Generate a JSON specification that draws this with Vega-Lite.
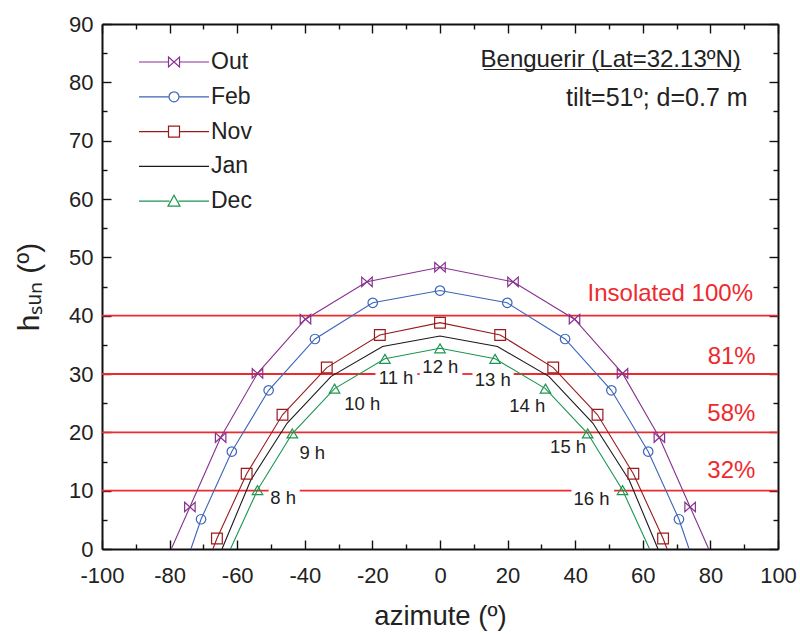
{
  "$schema": "https://vega.github.io/schema/vega-lite/v6.json",
  "width": 676,
  "height": 525,
  "autosize": "none",
  "padding": {"left": 102, "top": 24, "right": 22, "bottom": 86},
  "background": "white",
  "config": {
    "view": {"stroke": null},
    "axis": {
      "grid": false,
      "domainColor": "#111",
      "domainWidth": 2,
      "tickColor": "#111",
      "tickWidth": 1.4,
      "labelFont": "Liberation Sans",
      "labelFontSize": 22,
      "labelColor": "#222",
      "labelOverlap": false,
      "labelFlush": false,
      "titleFont": "Liberation Sans",
      "titleFontSize": 27.5,
      "titleFontWeight": "normal",
      "titleColor": "#222"
    },
    "text": {"font": "Liberation Sans"}
  },
  "datasets": {
    "curves": [
      {"month": "Out", "az": -79.5, "h": 0, "hour": null},
      {"month": "Out", "az": -74, "h": 7.2, "hour": 7},
      {"month": "Out", "az": -64.9, "h": 19.1, "hour": 8},
      {"month": "Out", "az": -54, "h": 30.1, "hour": 9},
      {"month": "Out", "az": -39.8, "h": 39.4, "hour": 10},
      {"month": "Out", "az": -21.6, "h": 45.8, "hour": 11},
      {"month": "Out", "az": 0, "h": 48.3, "hour": 12},
      {"month": "Out", "az": 21.6, "h": 45.8, "hour": 13},
      {"month": "Out", "az": 39.8, "h": 39.4, "hour": 14},
      {"month": "Out", "az": 54, "h": 30.1, "hour": 15},
      {"month": "Out", "az": 64.9, "h": 19.1, "hour": 16},
      {"month": "Out", "az": 74, "h": 7.2, "hour": 17},
      {"month": "Out", "az": 79.5, "h": 0, "hour": null},
      {"month": "Feb", "az": -73.7, "h": 0, "hour": null},
      {"month": "Feb", "az": -70.7, "h": 5.1, "hour": 7},
      {"month": "Feb", "az": -61.6, "h": 16.7, "hour": 8},
      {"month": "Feb", "az": -50.7, "h": 27.2, "hour": 9},
      {"month": "Feb", "az": -37, "h": 36, "hour": 10},
      {"month": "Feb", "az": -19.9, "h": 42.2, "hour": 11},
      {"month": "Feb", "az": 0, "h": 44.3, "hour": 12},
      {"month": "Feb", "az": 19.9, "h": 42.2, "hour": 13},
      {"month": "Feb", "az": 37, "h": 36, "hour": 14},
      {"month": "Feb", "az": 50.7, "h": 27.2, "hour": 15},
      {"month": "Feb", "az": 61.6, "h": 16.7, "hour": 16},
      {"month": "Feb", "az": 70.7, "h": 5.1, "hour": 17},
      {"month": "Feb", "az": 73.7, "h": 0, "hour": null},
      {"month": "Nov", "az": -67.2, "h": 0, "hour": null},
      {"month": "Nov", "az": -66, "h": 1.8, "hour": 7},
      {"month": "Nov", "az": -57.2, "h": 12.9, "hour": 8},
      {"month": "Nov", "az": -46.6, "h": 23, "hour": 9},
      {"month": "Nov", "az": -33.5, "h": 31.1, "hour": 10},
      {"month": "Nov", "az": -17.8, "h": 36.7, "hour": 11},
      {"month": "Nov", "az": 0, "h": 38.8, "hour": 12},
      {"month": "Nov", "az": 17.8, "h": 36.7, "hour": 13},
      {"month": "Nov", "az": 33.5, "h": 31.1, "hour": 14},
      {"month": "Nov", "az": 46.6, "h": 23, "hour": 15},
      {"month": "Nov", "az": 57.2, "h": 12.9, "hour": 16},
      {"month": "Nov", "az": 66, "h": 1.8, "hour": 17},
      {"month": "Nov", "az": 67.2, "h": 0, "hour": null},
      {"month": "Jan", "az": -64.5, "h": 0, "hour": null},
      {"month": "Jan", "az": -56, "h": 11.8, "hour": 8},
      {"month": "Jan", "az": -45.2, "h": 21.6, "hour": 9},
      {"month": "Jan", "az": -32.2, "h": 29.6, "hour": 10},
      {"month": "Jan", "az": -17, "h": 34.7, "hour": 11},
      {"month": "Jan", "az": 0, "h": 36.5, "hour": 12},
      {"month": "Jan", "az": 17, "h": 34.7, "hour": 13},
      {"month": "Jan", "az": 32.2, "h": 29.6, "hour": 14},
      {"month": "Jan", "az": 45.2, "h": 21.6, "hour": 15},
      {"month": "Jan", "az": 56, "h": 11.8, "hour": 16},
      {"month": "Jan", "az": 64.5, "h": 0, "hour": null},
      {"month": "Dec", "az": -62, "h": 0, "hour": null},
      {"month": "Dec", "az": -54, "h": 10.1, "hour": 8},
      {"month": "Dec", "az": -43.7, "h": 19.8, "hour": 9},
      {"month": "Dec", "az": -31.2, "h": 27.5, "hour": 10},
      {"month": "Dec", "az": -16.3, "h": 32.6, "hour": 11},
      {"month": "Dec", "az": 0, "h": 34.4, "hour": 12},
      {"month": "Dec", "az": 16.3, "h": 32.6, "hour": 13},
      {"month": "Dec", "az": 31.2, "h": 27.5, "hour": 14},
      {"month": "Dec", "az": 43.7, "h": 19.8, "hour": 15},
      {"month": "Dec", "az": 54, "h": 10.1, "hour": 16},
      {"month": "Dec", "az": 62, "h": 0, "hour": null}
    ],
    "levels": [
      {"h": 40, "a": -100, "b": 100},
      {"h": 20, "a": -100, "b": 100},
      {"h": 30, "a": -100, "b": -19.1},
      {"h": 30, "a": -6.7, "b": -6.0},
      {"h": 30, "a": 6.6, "b": 9.6},
      {"h": 30, "a": 21.8, "b": 100},
      {"h": 10, "a": -100, "b": -50.7},
      {"h": 10, "a": -41.5, "b": 38.9},
      {"h": 10, "a": 51.5, "b": 100}
    ],
    "hours": [
      {"label": "8 h", "az": -46.4, "h": 8.7},
      {"label": "9 h", "az": -37.8, "h": 16.4},
      {"label": "10 h", "az": -23.0, "h": 24.9},
      {"label": "11 h", "az": -13.0, "h": 29.3},
      {"label": "12 h", "az": 0.1, "h": 31.2},
      {"label": "13 h", "az": 15.6, "h": 28.9},
      {"label": "14 h", "az": 25.8, "h": 24.6},
      {"label": "15 h", "az": 37.9, "h": 17.5},
      {"label": "16 h", "az": 44.8, "h": 8.5}
    ],
    "pct": [
      {"label": "Insolated 100%", "az": 92.6, "h": 43.8},
      {"label": "81%", "az": 93.4, "h": 33.0},
      {"label": "58%", "az": 93.3, "h": 23.1},
      {"label": "32%", "az": 93.3, "h": 13.4}
    ],
    "site": [
      {"label": "Benguerir (Lat=32.13ºN)", "az": 89.0, "h": 83.9}
    ],
    "setup": [
      {"label": "tilt=51º; d=0.7 m", "az": 91.0, "h": 77.3}
    ],
    "underline": [
      {"a": 12.9, "b": 89.1, "h": 82.2}
    ]
  },
  "layer": [
    {
      "data": {"name": "levels"},
      "mark": {"type": "rule", "color": "#EE2A2E", "strokeWidth": 1.8},
      "encoding": {
        "x": {"field": "a", "type": "quantitative", "scale": {"domain": [-100, 100], "nice": false, "zero": false},
          "axis": {"orient": "top", "labels": false, "title": null, "values": [-100,-90,-80,-70,-60,-50,-40,-30,-20,-10,0,10,20,30,40,50,60,70,80,90,100],
            "tickSize": {"condition": {"test": "datum.value % 20 === 0", "value": -9}, "value": -5}}},
        "x2": {"field": "b"},
        "y": {"field": "h", "type": "quantitative", "scale": {"domain": [0, 90], "nice": false, "zero": false},
          "axis": {"orient": "right", "labels": false, "title": null, "values": [0,5,10,15,20,25,30,35,40,45,50,55,60,65,70,75,80,85,90],
            "tickSize": {"condition": {"test": "datum.value % 10 === 0", "value": -9}, "value": -5}}}
      }
    },
    {
      "data": {"name": "curves"},
      "mark": {"type": "line", "strokeWidth": 1.1},
      "encoding": {
        "x": {"field": "az", "type": "quantitative", "scale": {"domain": [-100, 100], "nice": false, "zero": false},
          "axis": {"orient": "bottom", "title": "azimute (º)", "titlePadding": 12, "labelPadding": 25,
            "values": [-100,-90,-80,-70,-60,-50,-40,-30,-20,-10,0,10,20,30,40,50,60,70,80,90,100],
            "labelExpr": "datum.value % 20 === 0 ? '' + datum.value : ''",
            "tickSize": {"condition": {"test": "datum.value % 20 === 0", "value": -9}, "value": -5}}},
        "y": {"field": "h", "type": "quantitative", "scale": {"domain": [0, 90], "nice": false, "zero": false},
          "axis": {"orient": "left", "title": "hₛᵤₙ (º)", "titleFontSize": 30, "titlePadding": 24, "labelPadding": 9, "ticks": false,
            "values": [0,10,20,30,40,50,60,70,80,90],
            "labelExpr": "'' + datum.value"}},
        "color": {"field": "month", "type": "nominal",
          "scale": {"domain": ["Out", "Feb", "Nov", "Jan", "Dec"], "range": ["#86308F", "#3D64B8", "#9A1B1E", "#1A1A1A", "#1B9550"]},
          "legend": {
            "orient": "none", "legendX": 36, "legendY": 22, "title": null,
            "symbolType": "stroke", "symbolSize": 900, "symbolStrokeWidth": 1.2,
            "symbolOffset": 20, "labelOffset": 21, "rowPadding": 6.8, "padding": 0,
            "labelFont": "Liberation Sans", "labelFontSize": 23, "labelColor": "#222",
            "encode": {"symbols": {"update": {
              "shape": {"signal": "datum.value === 'Out' ? 'M-2.333,0H-0.367M0.367,0H2.333M-0.367,-0.333L0.367,0.333V-0.333L-0.367,0.333Z' : datum.value === 'Feb' ? 'M-2.333,0H-0.333M0.333,0H2.333M-0.333,0A0.333,0.333,0,1,0,0.333,0A0.333,0.333,0,1,0,-0.333,0' : datum.value === 'Nov' ? 'M-2.333,0H-0.367M0.367,0H2.333M-0.367,-0.367H0.367V0.367H-0.367Z' : datum.value === 'Dec' ? 'M-2.333,0H-0.3M0.3,0H2.333M0,-0.4L0.4,0.333H-0.4Z' : 'M-2.333,0H2.333'"},
              "fill": {"value": "transparent"}
            }}}
          }}
      }
    },
    {
      "data": {"name": "curves"},
      "transform": [{"filter": "datum.hour != null && datum.month === 'Out'"}],
      "mark": {"type": "point", "filled": false, "strokeWidth": 1.2, "size": 110, "opacity": 1, "color": "#86308F", "shape": "M-1,-0.9L1,0.9V-0.9L-1,0.9Z"},
      "encoding": {
        "x": {"field": "az", "type": "quantitative", "scale": {"domain": [-100, 100], "nice": false, "zero": false}, "axis": null},
        "y": {"field": "h", "type": "quantitative", "scale": {"domain": [0, 90], "nice": false, "zero": false},
          "axis": {"orient": "left", "labels": false, "title": null, "domain": false,
            "values": [0,5,10,15,20,25,30,35,40,45,50,55,60,65,70,75,80,85,90],
            "tickSize": {"condition": {"test": "datum.value % 10 === 0", "value": -9}, "value": -5}}}
      }
    },
    {
      "data": {"name": "curves"},
      "transform": [{"filter": "datum.hour != null && datum.month === 'Feb'"}],
      "mark": {"type": "point", "filled": false, "strokeWidth": 1.2, "size": 90, "opacity": 1, "color": "#3D64B8", "shape": "circle"},
      "encoding": {
        "x": {"field": "az", "type": "quantitative", "scale": {"domain": [-100, 100], "nice": false, "zero": false}, "axis": null},
        "y": {"field": "h", "type": "quantitative", "scale": {"domain": [0, 90], "nice": false, "zero": false}, "axis": null}
      }
    },
    {
      "data": {"name": "curves"},
      "transform": [{"filter": "datum.hour != null && datum.month === 'Nov'"}],
      "mark": {"type": "point", "filled": false, "strokeWidth": 1.2, "size": 115, "opacity": 1, "color": "#9A1B1E", "shape": "square"},
      "encoding": {
        "x": {"field": "az", "type": "quantitative", "scale": {"domain": [-100, 100], "nice": false, "zero": false}, "axis": null},
        "y": {"field": "h", "type": "quantitative", "scale": {"domain": [0, 90], "nice": false, "zero": false}, "axis": null}
      }
    },
    {
      "data": {"name": "curves"},
      "transform": [{"filter": "datum.hour != null && datum.month === 'Dec'"}],
      "mark": {"type": "point", "filled": false, "strokeWidth": 1.2, "size": 110, "opacity": 1, "color": "#1B9550", "shape": "M0,-0.85L1,0.85H-1Z"},
      "encoding": {
        "x": {"field": "az", "type": "quantitative", "scale": {"domain": [-100, 100], "nice": false, "zero": false}, "axis": null},
        "y": {"field": "h", "type": "quantitative", "scale": {"domain": [0, 90], "nice": false, "zero": false}, "axis": null}
      }
    },
    {
      "data": {"name": "hours"},
      "mark": {"type": "text", "fontSize": 18.5, "color": "#222", "align": "center", "baseline": "middle"},
      "encoding": {
        "x": {"field": "az", "type": "quantitative", "scale": {"domain": [-100, 100], "nice": false, "zero": false}, "axis": null},
        "y": {"field": "h", "type": "quantitative", "scale": {"domain": [0, 90], "nice": false, "zero": false}, "axis": null},
        "text": {"field": "label"}
      }
    },
    {
      "data": {"name": "pct"},
      "mark": {"type": "text", "fontSize": 24, "color": "#EE2A2E", "align": "right", "baseline": "middle"},
      "encoding": {
        "x": {"field": "az", "type": "quantitative", "scale": {"domain": [-100, 100], "nice": false, "zero": false}, "axis": null},
        "y": {"field": "h", "type": "quantitative", "scale": {"domain": [0, 90], "nice": false, "zero": false}, "axis": null},
        "text": {"field": "label"}
      }
    },
    {
      "data": {"name": "site"},
      "mark": {"type": "text", "fontSize": 24, "color": "#222", "align": "right", "baseline": "middle"},
      "encoding": {
        "x": {"field": "az", "type": "quantitative", "scale": {"domain": [-100, 100], "nice": false, "zero": false}, "axis": null},
        "y": {"field": "h", "type": "quantitative", "scale": {"domain": [0, 90], "nice": false, "zero": false}, "axis": null},
        "text": {"field": "label"}
      }
    },
    {
      "data": {"name": "setup"},
      "mark": {"type": "text", "fontSize": 25, "color": "#222", "align": "right", "baseline": "middle"},
      "encoding": {
        "x": {"field": "az", "type": "quantitative", "scale": {"domain": [-100, 100], "nice": false, "zero": false}, "axis": null},
        "y": {"field": "h", "type": "quantitative", "scale": {"domain": [0, 90], "nice": false, "zero": false}, "axis": null},
        "text": {"field": "label"}
      }
    },
    {
      "data": {"name": "underline"},
      "mark": {"type": "rule", "color": "#222", "strokeWidth": 1.2},
      "encoding": {
        "x": {"field": "a", "type": "quantitative", "scale": {"domain": [-100, 100], "nice": false, "zero": false}, "axis": null},
        "x2": {"field": "b"},
        "y": {"field": "h", "type": "quantitative", "scale": {"domain": [0, 90], "nice": false, "zero": false}, "axis": null}
      }
    }
  ],
  "resolve": {"axis": {"x": "independent", "y": "independent"}}
}
